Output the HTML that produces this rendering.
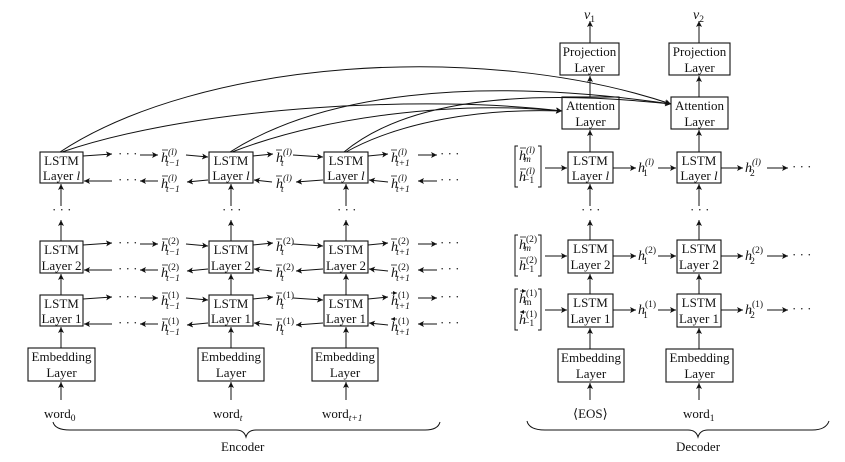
<!DOCTYPE html>
<html><head><meta charset="utf-8">
<style>
html,body{margin:0;padding:0;background:#fff;}
svg{display:block;}
text{font-family:"Liberation Serif",serif;fill:#111;}
.b{font-size:13px;text-anchor:middle;}
.m{font-size:14px;font-style:italic;}
.s{font-size:9.5px;font-style:normal;}
.si{font-size:9.5px;font-style:italic;}
.d{font-size:13px;}
</style></head><body>
<svg width="845" height="462" viewBox="0 0 845 462" xmlns="http://www.w3.org/2000/svg">
<defs>
<marker id="a" markerWidth="7" markerHeight="6" refX="6" refY="3" orient="auto" markerUnits="userSpaceOnUse">
<path d="M0,0 L6,3 L0,6 L1.5,3 Z" fill="#111"/></marker>
<marker id="sa" markerWidth="5" markerHeight="4" refX="4" refY="2" orient="auto" markerUnits="userSpaceOnUse">
<path d="M0,0 L4,2 L0,4 Z" fill="#111"/></marker>
</defs>
<g stroke="#111" stroke-width="1.1" fill="none">
<!-- encoder boxes -->
<rect x="40" y="152" width="43" height="31"/><rect x="209" y="152" width="44" height="31"/><rect x="324" y="152" width="44" height="31"/>
<rect x="40" y="241" width="43" height="32"/><rect x="209" y="241" width="44" height="32"/><rect x="324" y="241" width="44" height="32"/>
<rect x="40" y="295" width="43" height="31"/><rect x="209" y="295" width="44" height="31"/><rect x="324" y="295" width="44" height="31"/>
<rect x="28" y="348" width="67" height="33"/><rect x="198" y="348" width="66" height="33"/><rect x="312" y="348" width="66" height="33"/>
<!-- decoder boxes -->
<rect x="568" y="152" width="45" height="31"/><rect x="677" y="152" width="44" height="31"/>
<rect x="568" y="240" width="45" height="33"/><rect x="677" y="240" width="44" height="33"/>
<rect x="568" y="294" width="45" height="33"/><rect x="677" y="294" width="44" height="33"/>
<rect x="558" y="349" width="66" height="33"/><rect x="666" y="349" width="67" height="33"/>
<rect x="562" y="97" width="57" height="32"/><rect x="671" y="97" width="57" height="32"/>
<rect x="560" y="43" width="59" height="32"/><rect x="669" y="43" width="61" height="32"/>
</g>
<g stroke="#111" stroke-width="1" fill="none" marker-end="url(#a)">
<!-- encoder verticals -->
<line x1="61" y1="400" x2="61" y2="382"/><line x1="231" y1="400" x2="231" y2="382"/><line x1="346" y1="400" x2="346" y2="382"/>
<line x1="61" y1="348" x2="61" y2="327"/><line x1="231" y1="348" x2="231" y2="327"/><line x1="346" y1="348" x2="346" y2="327"/>
<line x1="61" y1="295" x2="61" y2="274"/><line x1="231" y1="295" x2="231" y2="274"/><line x1="346" y1="295" x2="346" y2="274"/>
<line x1="61" y1="241" x2="61" y2="220"/><line x1="231" y1="241" x2="231" y2="220"/><line x1="346" y1="241" x2="346" y2="220"/>
<line x1="61" y1="206" x2="61" y2="184"/><line x1="231" y1="206" x2="231" y2="184"/><line x1="346" y1="206" x2="346" y2="184"/>
<!-- decoder verticals -->
<line x1="590" y1="400" x2="590" y2="383"/><line x1="699" y1="400" x2="699" y2="383"/>
<line x1="590" y1="349" x2="590" y2="328"/><line x1="699" y1="349" x2="699" y2="328"/>
<line x1="590" y1="294" x2="590" y2="274"/><line x1="699" y1="294" x2="699" y2="274"/>
<line x1="590" y1="240" x2="590" y2="220"/><line x1="699" y1="240" x2="699" y2="220"/>
<line x1="590" y1="206" x2="590" y2="184"/><line x1="699" y1="206" x2="699" y2="184"/>
<line x1="590" y1="152" x2="590" y2="130"/><line x1="699" y1="152" x2="699" y2="130"/>
<line x1="590" y1="97" x2="590" y2="76"/><line x1="699" y1="97" x2="699" y2="76"/>
<line x1="590" y1="43" x2="590" y2="21"/><line x1="699" y1="43" x2="699" y2="21"/>
<!-- attention curves -->
<path d="M60 152 C 200 60, 480 40, 671 104"/>
<path d="M62 152 C 200 105, 430 95, 562 111"/>
<path d="M230 152 C 320 95, 470 75, 671 104"/>
<path d="M232 152 C 320 118, 450 100, 562 111"/>
<path d="M344 152 C 395 110, 490 85, 671 104"/>
<path d="M346 152 C 400 122, 480 108, 562 111"/>
</g>
<g stroke="#111" stroke-width="1" fill="none" marker-end="url(#a)" id="enc">
<!-- layer rows: forward -->
<line x1="83" y1="156" x2="112" y2="154"/><line x1="140" y1="155" x2="158" y2="155"/><line x1="186" y1="155" x2="208" y2="157"/>
<line x1="253" y1="156" x2="273" y2="154"/><line x1="293" y1="155" x2="323" y2="157"/><line x1="368" y1="156" x2="388" y2="154"/><line x1="418" y1="155" x2="437" y2="155"/>
<line x1="112" y1="181" x2="84" y2="181"/><line x1="158" y1="181" x2="140" y2="181"/><line x1="208" y1="180" x2="187" y2="182"/>
<line x1="272" y1="182" x2="254" y2="180"/><line x1="323" y1="180" x2="296" y2="182"/><line x1="388" y1="182" x2="369" y2="180"/><line x1="437" y1="181" x2="418" y2="181"/>
<line x1="83" y1="245" x2="112" y2="243"/><line x1="140" y1="244" x2="158" y2="244"/><line x1="186" y1="244" x2="208" y2="246"/>
<line x1="253" y1="245" x2="273" y2="243"/><line x1="293" y1="244" x2="323" y2="246"/><line x1="368" y1="245" x2="388" y2="243"/><line x1="418" y1="244" x2="437" y2="244"/>
<line x1="112" y1="270" x2="84" y2="270"/><line x1="158" y1="270" x2="140" y2="270"/><line x1="208" y1="269" x2="187" y2="271"/>
<line x1="272" y1="271" x2="254" y2="269"/><line x1="323" y1="269" x2="296" y2="271"/><line x1="388" y1="271" x2="369" y2="269"/><line x1="437" y1="270" x2="418" y2="270"/>
<line x1="83" y1="299" x2="112" y2="297"/><line x1="140" y1="298" x2="158" y2="298"/><line x1="186" y1="298" x2="208" y2="300"/>
<line x1="253" y1="299" x2="273" y2="297"/><line x1="293" y1="298" x2="323" y2="300"/><line x1="368" y1="299" x2="388" y2="297"/><line x1="418" y1="298" x2="437" y2="298"/>
<line x1="112" y1="324" x2="84" y2="324"/><line x1="158" y1="324" x2="140" y2="324"/><line x1="208" y1="323" x2="187" y2="325"/>
<line x1="272" y1="325" x2="254" y2="323"/><line x1="323" y1="323" x2="296" y2="325"/><line x1="388" y1="325" x2="369" y2="323"/><line x1="437" y1="324" x2="418" y2="324"/>
<!-- decoder rows -->
<line x1="545" y1="168" x2="567" y2="168"/><line x1="613" y1="168" x2="636" y2="168"/><line x1="658" y1="168" x2="676" y2="168"/><line x1="721" y1="168" x2="743" y2="168"/><line x1="767" y1="168" x2="788" y2="168"/>
<line x1="545" y1="256" x2="567" y2="256"/><line x1="613" y1="256" x2="636" y2="256"/><line x1="658" y1="256" x2="676" y2="256"/><line x1="721" y1="256" x2="743" y2="256"/><line x1="767" y1="256" x2="788" y2="256"/>
<line x1="545" y1="310" x2="567" y2="310"/><line x1="613" y1="310" x2="636" y2="310"/><line x1="658" y1="310" x2="676" y2="310"/><line x1="721" y1="310" x2="743" y2="310"/><line x1="767" y1="310" x2="788" y2="310"/>
</g>
<!-- brackets -->
<g stroke="#111" stroke-width="1" fill="none">
<path d="M518 146 h-3 v41 h3 M538 146 h3 v41 h-3"/>
<path d="M518 235 h-3 v41 h3 M538 235 h3 v41 h-3"/>
<path d="M518 289 h-3 v41 h3 M538 289 h3 v41 h-3"/>
<!-- braces -->
<path d="M53 422 Q55 430 70 430 L236 430 Q244 430 246 437 Q248 430 256 430 L425 430 Q438 430 440 422"/>
<path d="M527 421 Q529 430 545 430 L688 430 Q696 430 698 437 Q700 430 708 430 L812 430 Q826 430 829 421"/>
</g>
<!-- box labels -->
<g class="b">
<text class="b" x="61.5" y="165">LSTM</text><text class="b" x="61.5" y="180">Layer <tspan font-style="italic">l</tspan></text>
<text class="b" x="231" y="165">LSTM</text><text class="b" x="231" y="180">Layer <tspan font-style="italic">l</tspan></text>
<text class="b" x="346" y="165">LSTM</text><text class="b" x="346" y="180">Layer <tspan font-style="italic">l</tspan></text>
<text class="b" x="61.5" y="254">LSTM</text><text class="b" x="61.5" y="270">Layer 2</text>
<text class="b" x="231" y="254">LSTM</text><text class="b" x="231" y="270">Layer 2</text>
<text class="b" x="346" y="254">LSTM</text><text class="b" x="346" y="270">Layer 2</text>
<text class="b" x="61.5" y="308">LSTM</text><text class="b" x="61.5" y="323">Layer 1</text>
<text class="b" x="231" y="308">LSTM</text><text class="b" x="231" y="323">Layer 1</text>
<text class="b" x="346" y="308">LSTM</text><text class="b" x="346" y="323">Layer 1</text>
<text class="b" x="61.5" y="361">Embedding</text><text class="b" x="61.5" y="377">Layer</text>
<text class="b" x="231" y="361">Embedding</text><text class="b" x="231" y="377">Layer</text>
<text class="b" x="345" y="361">Embedding</text><text class="b" x="345" y="377">Layer</text>
<text class="b" x="590.5" y="165">LSTM</text><text class="b" x="590.5" y="180">Layer <tspan font-style="italic">l</tspan></text>
<text class="b" x="699" y="165">LSTM</text><text class="b" x="699" y="180">Layer <tspan font-style="italic">l</tspan></text>
<text class="b" x="590.5" y="253">LSTM</text><text class="b" x="590.5" y="269">Layer 2</text>
<text class="b" x="699" y="253">LSTM</text><text class="b" x="699" y="269">Layer 2</text>
<text class="b" x="590.5" y="307">LSTM</text><text class="b" x="590.5" y="323">Layer 1</text>
<text class="b" x="699" y="307">LSTM</text><text class="b" x="699" y="323">Layer 1</text>
<text class="b" x="591" y="362">Embedding</text><text class="b" x="591" y="378">Layer</text>
<text class="b" x="699.5" y="362">Embedding</text><text class="b" x="699.5" y="378">Layer</text>
<text class="b" x="590.5" y="110">Attention</text><text class="b" x="590.5" y="126">Layer</text>
<text class="b" x="699.5" y="110">Attention</text><text class="b" x="699.5" y="126">Layer</text>
<text class="b" x="589.5" y="56">Projection</text><text class="b" x="589.5" y="72">Layer</text>
<text class="b" x="699.5" y="56">Projection</text><text class="b" x="699.5" y="72">Layer</text>
</g>
<!-- words -->
<text class="d" x="44" y="418">word<tspan class="s" dy="3">0</tspan></text>
<text class="d" x="213" y="418">word<tspan class="si" dy="3">t</tspan></text>
<text class="d" x="322" y="418">word<tspan class="si" dy="3">t+1</tspan></text>
<text class="d" x="573" y="418">⟨EOS⟩</text>
<text class="d" x="683" y="418">word<tspan class="s" dy="3">1</tspan></text>
<text class="d" x="221" y="451">Encoder</text>
<text class="d" x="676" y="451">Decoder</text>
<text class="m" x="584" y="19">v<tspan class="s" dy="3">1</tspan></text>
<text class="m" x="693" y="19">v<tspan class="s" dy="3">2</tspan></text>
<!-- dots -->
<g class="d">
<text x="118" y="158">· · ·</text><text x="118" y="184">· · ·</text><text x="440" y="158">· · ·</text><text x="440" y="184">· · ·</text>
<text x="118" y="247">· · ·</text><text x="118" y="273">· · ·</text><text x="440" y="247">· · ·</text><text x="440" y="273">· · ·</text>
<text x="118" y="301">· · ·</text><text x="118" y="327">· · ·</text><text x="440" y="301">· · ·</text><text x="440" y="327">· · ·</text>
<text x="52" y="214">· · ·</text><text x="222" y="214">· · ·</text><text x="337" y="214">· · ·</text>
<text x="581" y="214">· · ·</text><text x="690" y="214">· · ·</text>
<text x="792" y="171">· · ·</text><text x="792" y="259">· · ·</text><text x="792" y="313">· · ·</text>
</g>
<!-- h labels encoder -->
<g id="hl">
<!-- layer l -->
<text class="m" x="161" y="162">h<tspan class="si" dy="-7">(l)</tspan><tspan class="si" dx="-11" dy="11">t−1</tspan></text>
<text class="m" x="161" y="188">h<tspan class="si" dy="-7">(l)</tspan><tspan class="si" dx="-11" dy="11">t−1</tspan></text>
<text class="m" x="276" y="162">h<tspan class="si" dy="-7">(l)</tspan><tspan class="si" dx="-11" dy="11">t</tspan></text>
<text class="m" x="276" y="188">h<tspan class="si" dy="-7">(l)</tspan><tspan class="si" dx="-11" dy="11">t</tspan></text>
<text class="m" x="391" y="162">h<tspan class="si" dy="-7">(l)</tspan><tspan class="si" dx="-11" dy="11">t+1</tspan></text>
<text class="m" x="391" y="188">h<tspan class="si" dy="-7">(l)</tspan><tspan class="si" dx="-11" dy="11">t+1</tspan></text>
<!-- layer 2 -->
<text class="m" x="161" y="251">h<tspan class="s" dy="-7">(2)</tspan><tspan class="si" dx="-13" dy="11">t−1</tspan></text>
<text class="m" x="161" y="277">h<tspan class="s" dy="-7">(2)</tspan><tspan class="si" dx="-13" dy="11">t−1</tspan></text>
<text class="m" x="276" y="251">h<tspan class="s" dy="-7">(2)</tspan><tspan class="si" dx="-13" dy="11">t</tspan></text>
<text class="m" x="276" y="277">h<tspan class="s" dy="-7">(2)</tspan><tspan class="si" dx="-13" dy="11">t</tspan></text>
<text class="m" x="391" y="251">h<tspan class="s" dy="-7">(2)</tspan><tspan class="si" dx="-13" dy="11">t+1</tspan></text>
<text class="m" x="391" y="277">h<tspan class="s" dy="-7">(2)</tspan><tspan class="si" dx="-13" dy="11">t+1</tspan></text>
<!-- layer 1 -->
<text class="m" x="161" y="305">h<tspan class="s" dy="-7">(1)</tspan><tspan class="si" dx="-13" dy="11">t−1</tspan></text>
<text class="m" x="161" y="331">h<tspan class="s" dy="-7">(1)</tspan><tspan class="si" dx="-13" dy="11">t−1</tspan></text>
<text class="m" x="276" y="305">h<tspan class="s" dy="-7">(1)</tspan><tspan class="si" dx="-13" dy="11">t</tspan></text>
<text class="m" x="276" y="331">h<tspan class="s" dy="-7">(1)</tspan><tspan class="si" dx="-13" dy="11">t</tspan></text>
<text class="m" x="391" y="305">h<tspan class="s" dy="-7">(1)</tspan><tspan class="si" dx="-13" dy="11">t+1</tspan></text>
<text class="m" x="391" y="331">h<tspan class="s" dy="-7">(1)</tspan><tspan class="si" dx="-13" dy="11">t+1</tspan></text>
<!-- decoder h -->
<text class="m" x="638" y="172">h<tspan class="si" dy="-7">(l)</tspan><tspan class="s" dx="-11" dy="11">1</tspan></text>
<text class="m" x="745" y="172">h<tspan class="si" dy="-7">(l)</tspan><tspan class="s" dx="-11" dy="11">2</tspan></text>
<text class="m" x="638" y="260">h<tspan class="s" dy="-7">(2)</tspan><tspan class="s" dx="-13" dy="11">1</tspan></text>
<text class="m" x="745" y="260">h<tspan class="s" dy="-7">(2)</tspan><tspan class="s" dx="-13" dy="11">2</tspan></text>
<text class="m" x="638" y="314">h<tspan class="s" dy="-7">(1)</tspan><tspan class="s" dx="-13" dy="11">1</tspan></text>
<text class="m" x="745" y="314">h<tspan class="s" dy="-7">(1)</tspan><tspan class="s" dx="-13" dy="11">2</tspan></text>
<!-- bracket contents -->
<text class="m" x="519" y="160">h<tspan class="si" dy="-7">(l)</tspan><tspan class="si" dx="-11" dy="9">m</tspan></text>
<text class="m" x="519" y="181">h<tspan class="si" dy="-7">(l)</tspan><tspan class="s" dx="-11" dy="9">−1</tspan></text>
<text class="m" x="519" y="249">h<tspan class="s" dy="-7">(2)</tspan><tspan class="si" dx="-13" dy="9">m</tspan></text>
<text class="m" x="519" y="270">h<tspan class="s" dy="-7">(2)</tspan><tspan class="s" dx="-13" dy="9">−1</tspan></text>
<text class="m" x="519" y="303">h<tspan class="s" dy="-7">(1)</tspan><tspan class="s" dx="-13" dy="9">m</tspan></text>
<text class="m" x="519" y="324">h<tspan class="s" dy="-7">(1)</tspan><tspan class="s" dx="-13" dy="9">−1</tspan></text>
</g>
<!-- vector arrows above h -->
<g stroke="#111" stroke-width="0.7" fill="none">
<path d="M162 150 h6 M276 150 h6 M391 150 h6 M162 239 h6 M276 239 h6 M391 239 h6 M162 293 h6 M276 293 h6 M391 293 h6" marker-end="url(#sa)"/>
<path d="M168 176 h-6 M282 176 h-6 M397 176 h-6 M168 265 h-6 M282 265 h-6 M397 265 h-6 M168 319 h-6 M282 319 h-6 M397 319 h-6" marker-end="url(#sa)"/>
<path d="M520 148 h6 M520 237 h6 M520 291 h6" marker-end="url(#sa)"/>
<path d="M526 169 h-6 M526 258 h-6 M526 312 h-6" marker-end="url(#sa)"/>
</g>
</svg>
</body></html>
